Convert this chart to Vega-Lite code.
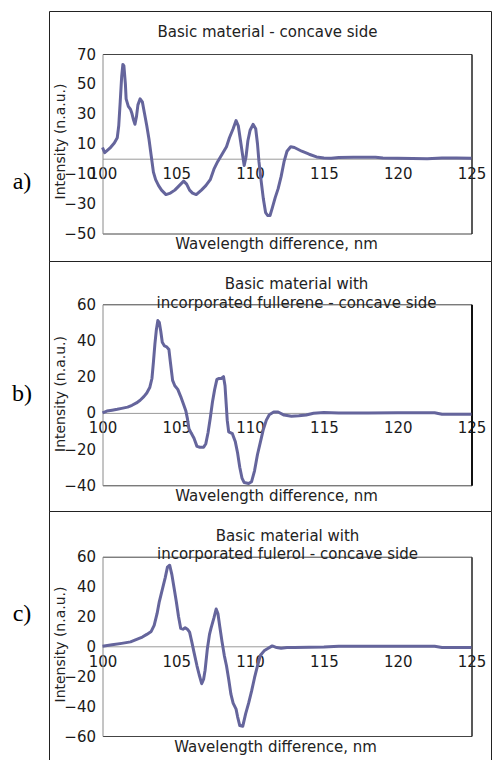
{
  "$schema": "https://vega.github.io/schema/vega-lite/v6.json",
  "padding": {"left": 11, "top": 10, "right": 0, "bottom": 0},
  "background": "white",
  "datasets": {
    "a": [
      {"x": 100.0, "y": 7.5}, {"x": 100.15, "y": 4}, {"x": 100.5, "y": 7}, {"x": 100.8, "y": 10.5},
      {"x": 101.0, "y": 14}, {"x": 101.1, "y": 22}, {"x": 101.2, "y": 38}, {"x": 101.3, "y": 55},
      {"x": 101.38, "y": 63}, {"x": 101.45, "y": 62}, {"x": 101.55, "y": 50}, {"x": 101.6, "y": 40},
      {"x": 101.75, "y": 35}, {"x": 101.9, "y": 33}, {"x": 102.0, "y": 30}, {"x": 102.1, "y": 26},
      {"x": 102.2, "y": 23}, {"x": 102.3, "y": 28}, {"x": 102.4, "y": 36}, {"x": 102.55, "y": 40},
      {"x": 102.7, "y": 38}, {"x": 102.85, "y": 30}, {"x": 103.0, "y": 22}, {"x": 103.15, "y": 13},
      {"x": 103.3, "y": 2}, {"x": 103.45, "y": -9}, {"x": 103.6, "y": -14}, {"x": 103.8, "y": -18},
      {"x": 104.0, "y": -21}, {"x": 104.3, "y": -24}, {"x": 104.6, "y": -23}, {"x": 104.9, "y": -21},
      {"x": 105.2, "y": -18}, {"x": 105.5, "y": -15}, {"x": 105.7, "y": -17}, {"x": 105.9, "y": -21},
      {"x": 106.1, "y": -23}, {"x": 106.35, "y": -24}, {"x": 106.7, "y": -21}, {"x": 107.0, "y": -18},
      {"x": 107.3, "y": -14}, {"x": 107.55, "y": -7}, {"x": 107.8, "y": -2}, {"x": 108.1, "y": 3},
      {"x": 108.4, "y": 8}, {"x": 108.6, "y": 14}, {"x": 108.85, "y": 20}, {"x": 109.05, "y": 25.5},
      {"x": 109.2, "y": 22}, {"x": 109.35, "y": 12}, {"x": 109.5, "y": 2}, {"x": 109.6, "y": -4.5},
      {"x": 109.72, "y": 1}, {"x": 109.85, "y": 12}, {"x": 110.0, "y": 19}, {"x": 110.2, "y": 23},
      {"x": 110.38, "y": 20}, {"x": 110.5, "y": 10}, {"x": 110.6, "y": -2}, {"x": 110.75, "y": -15},
      {"x": 110.9, "y": -27}, {"x": 111.05, "y": -36}, {"x": 111.2, "y": -38}, {"x": 111.35, "y": -38},
      {"x": 111.5, "y": -33}, {"x": 111.7, "y": -26}, {"x": 111.9, "y": -20}, {"x": 112.1, "y": -12},
      {"x": 112.3, "y": -2}, {"x": 112.5, "y": 5}, {"x": 112.75, "y": 8}, {"x": 113.0, "y": 7.5},
      {"x": 113.5, "y": 5}, {"x": 114.0, "y": 3}, {"x": 114.5, "y": 1.2}, {"x": 115.0, "y": 0.5},
      {"x": 115.5, "y": 0.3}, {"x": 116.0, "y": 0.8}, {"x": 117.0, "y": 1}, {"x": 118.5, "y": 1},
      {"x": 119.0, "y": 0.5}, {"x": 120.0, "y": 0.3}, {"x": 121.0, "y": 0.2}, {"x": 122.0, "y": 0},
      {"x": 123.0, "y": 0.5}, {"x": 124.0, "y": 0.4}, {"x": 125.0, "y": 0.3}
    ],
    "b": [
      {"x": 100.0, "y": 0}, {"x": 100.3, "y": 1}, {"x": 100.65, "y": 1.5}, {"x": 101.0, "y": 2},
      {"x": 101.3, "y": 2.5}, {"x": 101.7, "y": 3.2}, {"x": 102.0, "y": 4.2}, {"x": 102.3, "y": 5.5},
      {"x": 102.55, "y": 7}, {"x": 102.8, "y": 9}, {"x": 103.0, "y": 11}, {"x": 103.2, "y": 14},
      {"x": 103.35, "y": 19}, {"x": 103.45, "y": 28}, {"x": 103.55, "y": 38}, {"x": 103.65, "y": 46},
      {"x": 103.75, "y": 51}, {"x": 103.85, "y": 50}, {"x": 103.95, "y": 45}, {"x": 104.05, "y": 39},
      {"x": 104.2, "y": 37}, {"x": 104.35, "y": 36.5}, {"x": 104.5, "y": 35}, {"x": 104.6, "y": 28},
      {"x": 104.75, "y": 18}, {"x": 104.9, "y": 15}, {"x": 105.1, "y": 13}, {"x": 105.3, "y": 9},
      {"x": 105.5, "y": 4.5}, {"x": 105.65, "y": 1}, {"x": 105.75, "y": -3}, {"x": 105.85, "y": -8.5},
      {"x": 106.0, "y": -11}, {"x": 106.2, "y": -14}, {"x": 106.4, "y": -18.5}, {"x": 106.6, "y": -19},
      {"x": 106.85, "y": -19}, {"x": 107.0, "y": -17}, {"x": 107.15, "y": -11}, {"x": 107.3, "y": -3},
      {"x": 107.45, "y": 6}, {"x": 107.6, "y": 13}, {"x": 107.75, "y": 18.5}, {"x": 107.9, "y": 19},
      {"x": 108.05, "y": 19}, {"x": 108.2, "y": 20}, {"x": 108.3, "y": 15}, {"x": 108.38, "y": 5},
      {"x": 108.45, "y": -4}, {"x": 108.55, "y": -10.5}, {"x": 108.8, "y": -11.5}, {"x": 109.0, "y": -16},
      {"x": 109.15, "y": -22}, {"x": 109.3, "y": -30}, {"x": 109.45, "y": -36}, {"x": 109.6, "y": -38.5},
      {"x": 109.9, "y": -39}, {"x": 110.1, "y": -38}, {"x": 110.3, "y": -32}, {"x": 110.5, "y": -23},
      {"x": 110.7, "y": -16}, {"x": 110.9, "y": -9}, {"x": 111.1, "y": -4}, {"x": 111.3, "y": -1},
      {"x": 111.6, "y": 0.5}, {"x": 111.9, "y": 0.5}, {"x": 112.3, "y": -1.2}, {"x": 112.8, "y": -1.8},
      {"x": 113.3, "y": -1.6}, {"x": 113.8, "y": -1.2}, {"x": 114.3, "y": -0.2}, {"x": 115.0, "y": 0.2},
      {"x": 116.0, "y": 0}, {"x": 118.0, "y": 0}, {"x": 120.0, "y": 0.1}, {"x": 122.5, "y": 0.1},
      {"x": 123.0, "y": -0.7}, {"x": 125.0, "y": -0.8}
    ],
    "c": [
      {"x": 100.0, "y": 0}, {"x": 100.65, "y": 1}, {"x": 101.3, "y": 2}, {"x": 101.9, "y": 3},
      {"x": 102.4, "y": 5}, {"x": 102.7, "y": 6.2}, {"x": 103.0, "y": 8}, {"x": 103.3, "y": 10},
      {"x": 103.5, "y": 14}, {"x": 103.7, "y": 22}, {"x": 103.85, "y": 30}, {"x": 104.05, "y": 38},
      {"x": 104.25, "y": 46}, {"x": 104.4, "y": 53}, {"x": 104.55, "y": 54.3}, {"x": 104.7, "y": 48},
      {"x": 104.85, "y": 39}, {"x": 105.0, "y": 30}, {"x": 105.15, "y": 20}, {"x": 105.3, "y": 12},
      {"x": 105.45, "y": 11.5}, {"x": 105.6, "y": 12.5}, {"x": 105.75, "y": 11.5}, {"x": 105.9, "y": 9.5},
      {"x": 106.05, "y": 3}, {"x": 106.2, "y": -4}, {"x": 106.4, "y": -13}, {"x": 106.55, "y": -19},
      {"x": 106.72, "y": -25}, {"x": 106.85, "y": -22}, {"x": 106.95, "y": -16}, {"x": 107.1, "y": -2},
      {"x": 107.25, "y": 8}, {"x": 107.35, "y": 12}, {"x": 107.55, "y": 19}, {"x": 107.7, "y": 25},
      {"x": 107.82, "y": 22}, {"x": 107.95, "y": 13}, {"x": 108.1, "y": 3}, {"x": 108.25, "y": -6},
      {"x": 108.4, "y": -13}, {"x": 108.55, "y": -22}, {"x": 108.7, "y": -32}, {"x": 108.85, "y": -38},
      {"x": 109.05, "y": -42}, {"x": 109.15, "y": -47}, {"x": 109.3, "y": -53}, {"x": 109.5, "y": -53.5},
      {"x": 109.7, "y": -45}, {"x": 109.9, "y": -38}, {"x": 110.1, "y": -30}, {"x": 110.3, "y": -21},
      {"x": 110.5, "y": -13}, {"x": 110.7, "y": -6}, {"x": 110.95, "y": -3}, {"x": 111.2, "y": -1.5},
      {"x": 111.5, "y": 0.3}, {"x": 111.8, "y": -0.8}, {"x": 112.1, "y": -1.2}, {"x": 112.5, "y": -0.8},
      {"x": 113.0, "y": -0.7}, {"x": 115.0, "y": -0.5}, {"x": 116.0, "y": 0}, {"x": 120.0, "y": 0},
      {"x": 122.5, "y": 0}, {"x": 123.0, "y": -0.8}, {"x": 125.0, "y": -0.8}
    ]
  },
  "vconcat": [
    {
      "width": 442, "height": 250,
      "data": {"name": "a"},
      "resolve": {"axis": {"x": "independent", "y": "independent"}},
      "layer": [
        {
          "mark": {"type": "line", "color": "#65659c", "strokeWidth": 3, "strokeJoin": "round"},
          "encoding": {
            "x": {"field": "x", "type": "quantitative",
              "scale": {"domain": [100, 125], "range": [53.5, 422.5], "nice": false, "zero": false},
              "axis": {"orient": "bottom", "offset": -102.3, "values": [100, 105, 110, 115, 120, 125], "domainColor": "#9a9a9a", "domainWidth": 1, "labelPadding": 8, "title": null}},
            "y": {"field": "y", "type": "quantitative",
              "scale": {"domain": [-50, 70], "range": [222.5, 43], "nice": false, "zero": false},
              "axis": {"orient": "left", "offset": -53.5, "values": [-50, -30, -10, 10, 30, 50, 70], "domainColor": "#8a8a8a", "labelPadding": 7, "title": "Intensity (n.a.u.)", "titleFontSize": 14, "titleX": -42.5, "titleY": 130, "titleAngle": 270, "titleAlign": "center", "titleBaseline": "middle"}}
          }
        },
        {
          "mark": {"type": "line", "opacity": 0},
          "encoding": {
            "x": {"field": "x", "type": "quantitative", "axis": {"orient": "top", "offset": -43, "labels": false, "domainColor": "#444", "title": "Basic material - concave side", "titleFontSize": 15, "titleX": 218, "titleY": -23, "titleAlign": "center", "titleBaseline": "middle"}},
            "y": {"field": "y", "type": "quantitative", "axis": {"orient": "right", "offset": -19.5, "labels": false, "domainColor": "#222", "domainWidth": 1.5, "title": "a)", "titleFont": "Liberation Serif", "titleFontSize": 24, "titleAngle": 0, "titleX": -450, "titleY": 170, "titleAlign": "center", "titleBaseline": "middle", "titleColor": "#000"}}
          }
        },
        {
          "mark": {"type": "line", "opacity": 0},
          "encoding": {
            "x": {"field": "x", "type": "quantitative", "axis": {"orient": "bottom", "offset": -27.5, "labels": false, "domainColor": "#444", "title": "Wavelength difference, nm", "titleFontSize": 15, "titleX": 227, "titleY": 9.5, "titleAlign": "center", "titleBaseline": "middle"}},
            "y": {"field": "y", "type": "quantitative", "axis": null}
          }
        }
      ]
    },
    {
      "width": 442, "height": 250,
      "data": {"name": "b"},
      "resolve": {"axis": {"x": "independent", "y": "independent"}},
      "layer": [
        {
          "mark": {"type": "line", "color": "#65659c", "strokeWidth": 3, "strokeJoin": "round"},
          "encoding": {
            "x": {"field": "x", "type": "quantitative",
              "scale": {"domain": [100, 125], "range": [53.5, 422.5], "nice": false, "zero": false},
              "axis": {"orient": "bottom", "offset": -98.1, "values": [100, 105, 110, 115, 120, 125], "domainColor": "#9a9a9a", "domainWidth": 1, "labelPadding": 8, "title": null}},
            "y": {"field": "y", "type": "quantitative",
              "scale": {"domain": [-40, 60], "range": [224.3, 43.3], "nice": false, "zero": false},
              "axis": {"orient": "left", "offset": -53.5, "values": [-40, -20, 0, 20, 40, 60], "domainColor": "#8a8a8a", "labelPadding": 7, "title": "Intensity (n.a.u.)", "titleFontSize": 14, "titleX": -42.5, "titleY": 132.5, "titleAngle": 270, "titleAlign": "center", "titleBaseline": "middle"}}
          }
        },
        {
          "mark": {"type": "line", "opacity": 0},
          "encoding": {
            "x": {"field": "x", "type": "quantitative", "axis": {"orient": "top", "offset": -43.3, "labels": false, "domainColor": "#444", "title": ["Basic material with", "incorporated fullerene - concave side"], "titleFontSize": 15, "titleLineHeight": 18.5, "titleX": 247, "titleY": -20.8, "titleAlign": "center", "titleBaseline": "middle"}},
            "y": {"field": "y", "type": "quantitative", "axis": {"orient": "right", "offset": -19.5, "labels": false, "domainColor": "#111", "domainWidth": 2, "title": "b)", "titleFont": "Liberation Serif", "titleFontSize": 24, "titleAngle": 0, "titleX": -450, "titleY": 132, "titleAlign": "center", "titleBaseline": "middle", "titleColor": "#000"}}
          }
        },
        {
          "mark": {"type": "line", "opacity": 0},
          "encoding": {
            "x": {"field": "x", "type": "quantitative", "axis": {"orient": "bottom", "offset": -25.7, "labels": false, "domainColor": "#444", "title": "Wavelength difference, nm", "titleFontSize": 15, "titleX": 227, "titleY": 10.5, "titleAlign": "center", "titleBaseline": "middle"}},
            "y": {"field": "y", "type": "quantitative", "axis": null}
          }
        }
      ]
    },
    {
      "width": 442, "height": 250,
      "data": {"name": "c"},
      "resolve": {"axis": {"x": "independent", "y": "independent"}},
      "layer": [
        {
          "mark": {"type": "line", "color": "#65659c", "strokeWidth": 3, "strokeJoin": "round"},
          "encoding": {
            "x": {"field": "x", "type": "quantitative",
              "scale": {"domain": [100, 125], "range": [53.5, 422.5], "nice": false, "zero": false},
              "axis": {"orient": "bottom", "offset": -114.7, "values": [100, 105, 110, 115, 120, 125], "domainColor": "#9a9a9a", "domainWidth": 1, "labelPadding": 8, "title": null}},
            "y": {"field": "y", "type": "quantitative",
              "scale": {"domain": [-60, 60], "range": [225, 45.7], "nice": false, "zero": false},
              "axis": {"orient": "left", "offset": -53.5, "values": [-60, -40, -20, 0, 20, 40, 60], "domainColor": "#8a8a8a", "labelPadding": 7, "title": "Intensity (n.a.u.)", "titleFontSize": 14, "titleX": -42.5, "titleY": 133, "titleAngle": 270, "titleAlign": "center", "titleBaseline": "middle"}}
          }
        },
        {
          "mark": {"type": "line", "opacity": 0},
          "encoding": {
            "x": {"field": "x", "type": "quantitative", "axis": {"orient": "top", "offset": -45.7, "labels": false, "domainColor": "#444", "title": ["Basic material with", "incorporated fulerol - concave side"], "titleFontSize": 15, "titleLineHeight": 18, "titleX": 238, "titleY": -21.7, "titleAlign": "center", "titleBaseline": "middle"}},
            "y": {"field": "y", "type": "quantitative", "axis": {"orient": "right", "offset": -19.5, "labels": false, "domainColor": "#222", "domainWidth": 1.5, "title": "c)", "titleFont": "Liberation Serif", "titleFontSize": 24, "titleAngle": 0, "titleX": -450, "titleY": 102, "titleAlign": "center", "titleBaseline": "middle", "titleColor": "#000"}}
          }
        },
        {
          "mark": {"type": "line", "opacity": 0},
          "encoding": {
            "x": {"field": "x", "type": "quantitative", "axis": {"orient": "bottom", "offset": -25, "labels": false, "domainColor": "#444", "title": "Wavelength difference, nm", "titleFontSize": 15, "titleX": 226, "titleY": 10, "titleAlign": "center", "titleBaseline": "middle"}},
            "y": {"field": "y", "type": "quantitative", "axis": null}
          }
        }
      ]
    }
  ],
  "spacing": 0,
  "bounds": "flush",
  "config": {
    "view": {"stroke": "#222", "strokeWidth": 1},
    "axis": {
      "ticks": false, "grid": false,
      "labelFont": "DejaVu Sans", "labelFontSize": 15, "labelColor": "#1a1a1a",
      "labelOverlap": false, "labelFlush": false,
      "titleFont": "DejaVu Sans", "titleFontWeight": "normal", "titleColor": "#222"
    }
  }
}
